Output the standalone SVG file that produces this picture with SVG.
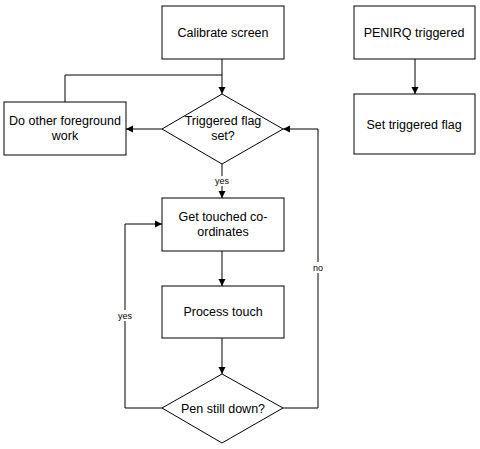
<svg xmlns="http://www.w3.org/2000/svg" width="480" height="449" viewBox="0 0 480 449">
<defs>
<marker id="ah" markerWidth="8" markerHeight="8" refX="7" refY="4" orient="auto" markerUnits="userSpaceOnUse">
<path d="M0,0.5 L7,4 L0,7.5 Z" fill="#000"/>
</marker>
<style>
.box{fill:#fff;stroke:#000;stroke-width:1}
.t{font-family:"Liberation Sans",Arial,sans-serif;font-size:12.5px;fill:#000;text-anchor:middle}
.lbl{font-family:"Liberation Sans",Arial,sans-serif;font-size:9px;fill:#000;text-anchor:middle}
.c{fill:none;stroke:#000;stroke-width:1}
</style>
</defs>
<rect width="480" height="449" fill="#fff"/>
<g id="connectors">
<path class="c" d="M222,59 V94" marker-end="url(#ah)"/>
<path class="c" d="M65,102 V75 H222"/>
<path class="c" d="M162,129 H126" marker-end="url(#ah)"/>
<path class="c" d="M222,164 V198" marker-end="url(#ah)"/>
<path class="c" d="M222,251 V286" marker-end="url(#ah)"/>
<path class="c" d="M222,338 V374" marker-end="url(#ah)"/>
<path class="c" d="M162,408 H125 V224 H162" marker-end="url(#ah)"/>
<path class="c" d="M283,408 H318 V129 H283" marker-end="url(#ah)"/>
<path class="c" d="M415,59 V94" marker-end="url(#ah)"/>
<rect x="212" y="176" width="20" height="10" fill="#fff"/>
<text class="lbl" x="222" y="184">yes</text>
<rect x="114" y="310" width="22" height="11" fill="#fff"/>
<text class="lbl" x="125" y="319">yes</text>
<rect x="310" y="262" width="16" height="11" fill="#fff"/>
<text class="lbl" x="318" y="271">no</text>
</g>
<g id="calibrate">
<rect class="box" x="162" y="6" width="122" height="53"/>
<text class="t" x="223" y="37">Calibrate screen</text>
</g>
<g id="other-work">
<rect class="box" x="4" y="102" width="122" height="53"/>
<text class="t" x="65" y="125">Do other foreground</text>
<text class="t" x="65" y="140">work</text>
</g>
<g id="triggered-flag">
<polygon class="box" points="222,94 283,129 222,164 162,129"/>
<text class="t" x="223" y="125">Triggered flag</text>
<text class="t" x="223" y="140">set?</text>
</g>
<g id="get-coords">
<rect class="box" x="162" y="198" width="122" height="53"/>
<text class="t" x="223" y="221">Get touched co-</text>
<text class="t" x="223" y="236">ordinates</text>
</g>
<g id="process">
<rect class="box" x="162" y="286" width="122" height="52"/>
<text class="t" x="223" y="316">Process touch</text>
</g>
<g id="pen-down">
<polygon class="box" points="222,374 283,408 222,443 162,408"/>
<text class="t" x="223" y="413">Pen still down?</text>
</g>
<g id="penirq">
<rect class="box" x="354" y="6" width="121" height="53"/>
<text class="t" x="414" y="37">PENIRQ triggered</text>
</g>
<g id="set-flag">
<rect class="box" x="354" y="94" width="121" height="60"/>
<text class="t" x="414" y="129">Set triggered flag</text>
</g>
</svg>
